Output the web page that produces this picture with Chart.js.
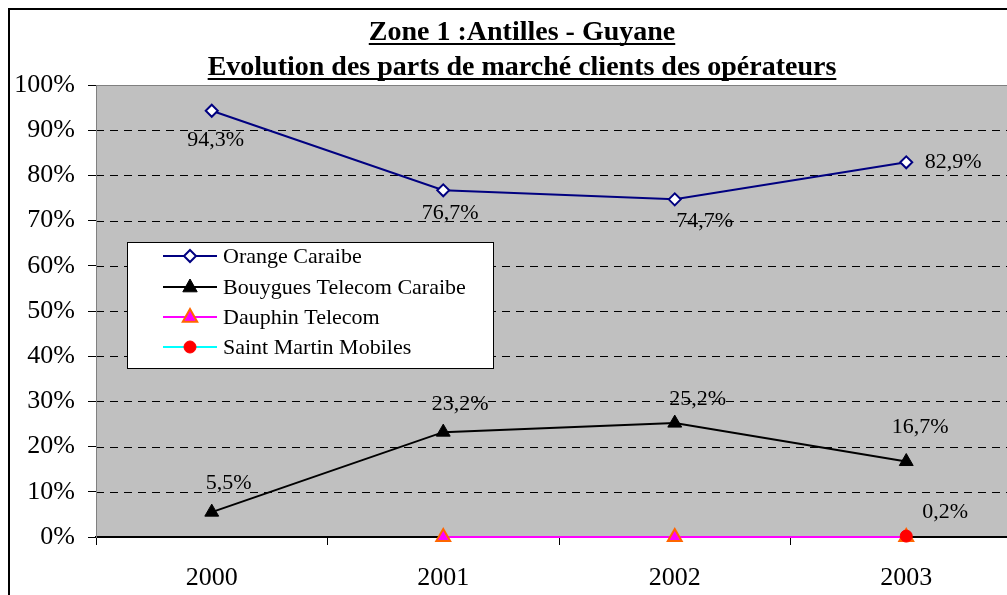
<!DOCTYPE html>
<html>
<head>
<meta charset="utf-8">
<script src="https://cdn.jsdelivr.net/npm/chart.js@4/dist/chart.umd.min.js"></script>
<style>
  html, body { margin: 0; padding: 0; background: #fff; overflow: hidden; }
  #wrap { position: absolute; left: 0; top: 0; width: 1040px; height: 640px; }
</style>
</head>
<body>
<div id="wrap"><canvas id="c" width="1040" height="640"></canvas></div>
<script>
// ---- data ----
const titleLines = ['Zone 1 :Antilles - Guyane', 'Evolution des parts de marché clients des opérateurs'];
const years = ['2000', '2001', '2002', '2003'];
const seriesNames = ['Orange Caraibe', 'Bouygues Telecom Caraibe', 'Dauphin Telecom', 'Saint Martin Mobiles'];
const orange = [94.3, 76.7, 74.7, 82.9];
const bouygues = [5.5, 23.2, 25.2, 16.7];
const dauphin = [null, 0, 0, 0];
const saintMartin = [null, null, null, 0.2];
const yTicks = [0, 10, 20, 30, 40, 50, 60, 70, 80, 90, 100];

// ---- label placement (style only) ----
const labelSpecs = [
  {ds: 0, i: 0, dx: 4, dy: 29}, {ds: 0, i: 1, dx: 7, dy: 23}, {ds: 0, i: 2, dx: 30, dy: 22}, {ds: 0, i: 3, dx: 47, dy: 0},
  {ds: 1, i: 0, dx: 17, dy: -29}, {ds: 1, i: 1, dx: 17, dy: -28}, {ds: 1, i: 2, dx: 23, dy: -24}, {ds: 1, i: 3, dx: 14, dy: -34},
  {ds: 3, i: 3, dx: 39, dy: -24}
];
const FONT = '"Liberation Serif", "Times New Roman", serif';

function fmt(v) { return v.toFixed(1).replace('.', ',') + '%'; }

function drawMarker(ctx, style, x, y, r, fill, stroke, lw) {
  ctx.save();
  ctx.beginPath();
  if (style === 'rectRot') {
    ctx.moveTo(x, y - r); ctx.lineTo(x + r, y); ctx.lineTo(x, y + r); ctx.lineTo(x - r, y); ctx.closePath();
  } else if (style === 'triangle') {
    ctx.moveTo(x, y - r); ctx.lineTo(x + r * 0.9, y + r * 0.6); ctx.lineTo(x - r * 0.9, y + r * 0.6); ctx.closePath();
  } else {
    ctx.arc(x, y, r, 0, Math.PI * 2);
  }
  ctx.fillStyle = fill; ctx.fill();
  if (lw > 0) { ctx.lineWidth = lw; ctx.strokeStyle = stroke; ctx.stroke(); }
  ctx.restore();
}

const decor = {
  id: 'decor',
  beforeDraw(chart) {
    const {ctx, chartArea: a} = chart;
    ctx.save();
    ctx.fillStyle = '#fff';
    ctx.fillRect(0, 0, chart.width, chart.height);
    ctx.fillStyle = '#C0C0C0';
    ctx.fillRect(a.left, a.top, a.right - a.left, a.bottom - a.top);
    // dashed grid lines
    const y = chart.scales.y;
    ctx.strokeStyle = '#000';
    ctx.lineWidth = 1;
    ctx.setLineDash([8, 6]);
    yTicks.forEach(v => {
      if (v === 0 || v === 100) return;
      const py = Math.round(y.getPixelForValue(v)) + 0.5;
      ctx.beginPath(); ctx.moveTo(a.left, py); ctx.lineTo(a.right, py); ctx.stroke();
    });
    ctx.setLineDash([]);
    ctx.strokeStyle = '#808080';
    ctx.beginPath();
    ctx.moveTo(a.left + 0.5, a.bottom); ctx.lineTo(a.left + 0.5, a.top + 0.5); ctx.lineTo(a.right - 0.5, a.top + 0.5); ctx.lineTo(a.right - 0.5, a.bottom);
    ctx.stroke();
    ctx.restore();
  },
  afterDatasetsDraw(chart) {
    const {ctx} = chart;
    ctx.save();
    // data labels
    ctx.font = '22px ' + FONT;
    ctx.fillStyle = '#000';
    ctx.textAlign = 'center';
    ctx.textBaseline = 'middle';
    labelSpecs.forEach(s => {
      const meta = chart.getDatasetMeta(s.ds);
      const el = meta.data[s.i];
      const v = chart.data.datasets[s.ds].data[s.i];
      if (!el || v == null) return;
      ctx.fillText(fmt(v), el.x + s.dx, el.y + s.dy);
    });
    // legend
    const bx = 127, by = 242, bw = 366, bh = 126;
    ctx.fillStyle = '#fff';
    ctx.fillRect(bx, by, bw, bh);
    ctx.strokeStyle = '#000'; ctx.lineWidth = 1;
    ctx.strokeRect(bx + 0.5, by + 0.5, bw, bh);
    const rows = [256, 287, 317, 347];
    ctx.font = '22px ' + FONT;
    ctx.textAlign = 'left';
    chart.data.datasets.forEach((ds, k) => {
      const ry = rows[k];
      ctx.strokeStyle = ds.borderColor; ctx.lineWidth = 2;
      ctx.beginPath(); ctx.moveTo(163, ry); ctx.lineTo(217, ry); ctx.stroke();
      drawMarker(ctx, ds.pointStyle, 190, ry, ds.pointRadius, ds.pointBackgroundColor, ds.pointBorderColor, ds.pointBorderWidth);
      ctx.fillStyle = '#000';
      ctx.fillText(ds.label, 223, ry + 1);
    });
    ctx.restore();
  },
  afterDraw(chart) {
    const {ctx} = chart;
    ctx.save();
    // frame
    ctx.strokeStyle = '#000'; ctx.lineWidth = 2;
    ctx.strokeRect(9, 9, chart.width + 20, chart.height + 20);
    // title
    ctx.font = 'bold 28px ' + FONT;
    ctx.fillStyle = '#000';
    ctx.textAlign = 'center';
    ctx.textBaseline = 'alphabetic';
    const cx = 522;
    const bases = [40, 75];
    titleLines.forEach((t, k) => {
      ctx.fillText(t, cx, bases[k]);
      const w = ctx.measureText(t).width;
      ctx.fillRect(cx - w / 2, bases[k] + 3, w, 2);
    });
    ctx.restore();
  }
};

const datasets = [
  {label: seriesNames[0], data: orange, borderColor: '#000080', borderWidth: 2, pointStyle: 'rectRot', pointRadius: 6,
   pointBackgroundColor: '#fff', pointBorderColor: '#000080', pointBorderWidth: 2, order: 4},
  {label: seriesNames[1], data: bouygues, borderColor: '#000', borderWidth: 2, pointStyle: 'triangle', pointRadius: 8,
   pointBackgroundColor: '#000', pointBorderColor: '#000', pointBorderWidth: 1, order: 3},
  {label: seriesNames[2], data: dauphin, borderColor: '#FF00FF', borderWidth: 2, pointStyle: 'triangle', pointRadius: 8,
   pointBackgroundColor: '#FF00FF', pointBorderColor: '#FF6600', pointBorderWidth: 2, order: 2},
  {label: seriesNames[3], data: saintMartin, borderColor: '#00FFFF', borderWidth: 2, pointStyle: 'circle', pointRadius: 6,
   pointBackgroundColor: '#FF0000', pointBorderColor: '#FF0000', pointBorderWidth: 1, order: 1}
].map(d => Object.assign({fill: false, tension: 0, clip: false, spanGaps: false, backgroundColor: d.pointBackgroundColor}, d));

new Chart(document.getElementById('c'), {
  type: 'line',
  data: {labels: years, datasets},
  plugins: [decor],
  options: {
    responsive: false,
    devicePixelRatio: 1,
    animation: false,
    layout: {padding: {left: 0, top: 85, right: 18, bottom: 0}},
    plugins: {legend: {display: false}, title: {display: false}, tooltip: {enabled: false}},
    scales: {
      x: {
        type: 'category',
        offset: true,
        grid: {display: true, drawOnChartArea: false, drawTicks: true, tickLength: 8, offset: true, color: '#000', tickColor: '#000'},
        border: {display: true, color: '#000', width: 2},
        ticks: {color: '#000', font: {family: FONT, size: 26}, padding: 18, maxRotation: 0},
        afterFit(s) { s.height = 103; }
      },
      y: {
        min: 0, max: 100,
        afterBuildTicks(s) { s.ticks = yTicks.map(v => ({value: v})); },
        grid: {display: true, drawOnChartArea: false, drawTicks: true, tickLength: 8, color: '#000', tickColor: '#000'},
        border: {display: true, color: '#808080', width: 1},
        ticks: {color: '#000', font: {family: FONT, size: 26}, padding: 13, callback: v => v + '%'},
        afterFit(s) { s.width = 96; }
      }
    }
  }
});
</script>
</body>
</html>
